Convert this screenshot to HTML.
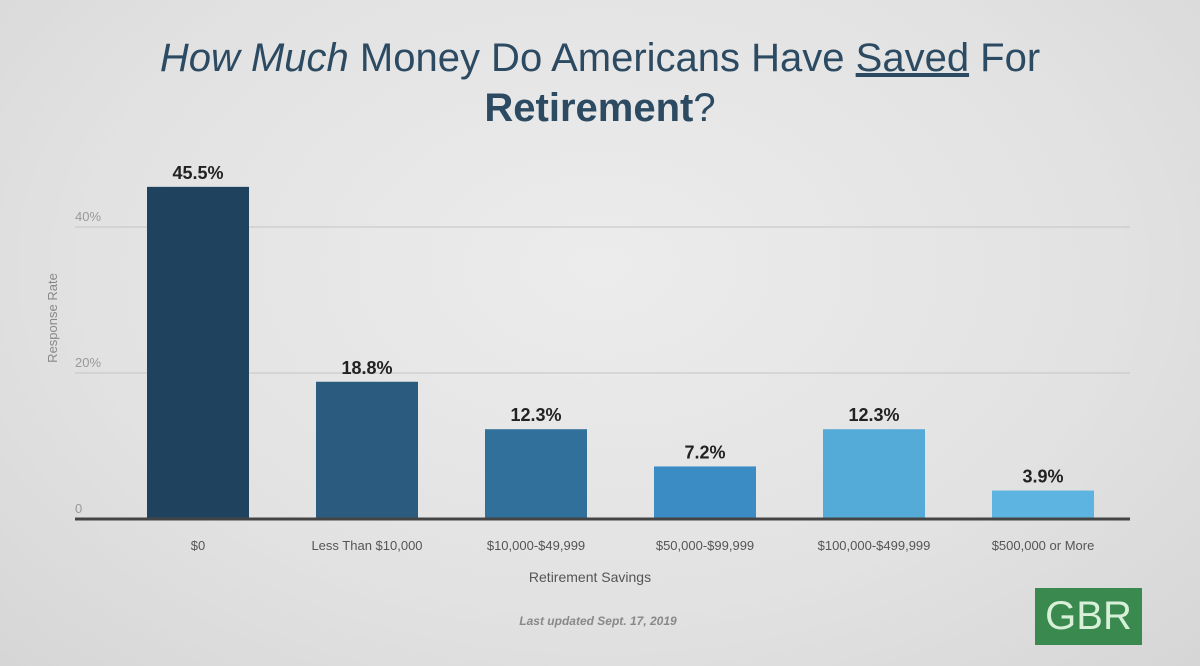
<!DOCTYPE html>
<html><head><meta charset="utf-8"><style>
html,body{margin:0;padding:0}
body{width:1200px;height:666px;overflow:hidden;background:radial-gradient(ellipse at 50% 40%,#ececec 0%,#e2e2e2 60%,#d6d6d6 100%);font-family:"Liberation Sans",sans-serif;position:relative}
.t{position:absolute;left:0;width:1200px;text-align:center;color:#2c4b62;font-size:40px}
</style></head><body>
<div class="t" style="top:36px"><i>How Much</i> Money Do Americans Have <u>Saved</u> For</div>
<div class="t" style="top:86px"><b>Retirement</b>?</div>
<svg id="c" width="1200" height="666" style="position:absolute;left:0;top:0"></svg>
<div style="position:absolute;left:1035px;top:588px;width:107px;height:57px;background:#3a8a50;color:#d8f0d8;font-size:40px;text-align:center;line-height:57px">GBR</div>
<script>
const categories=["$0","Less Than $10,000","$10,000-$49,999","$50,000-$99,999","$100,000-$499,999","$500,000 or More"];
const values=[45.5,18.8,12.3,7.2,12.3,3.9];
const valueLabels=["45.5%","18.8%","12.3%","7.2%","12.3%","3.9%"];
const ticks=[0,20,40];
const tickLabels=["0","20%","40%"];
const colors=["#1f435e","#2b5b7f","#30709b","#3b8cc5","#55abd8","#5eb4e1"];
const svg=document.getElementById('c');const NS='http://www.w3.org/2000/svg';
const y0=519,sc=7.3,x0=147,step=169,bw=102;
const y=v=>y0-v*sc, x=i=>x0+i*step;
function mk(t,a,txt){const e=document.createElementNS(NS,t);for(const k in a)e.setAttribute(k,a[k]);if(txt!=null)e.textContent=txt;svg.appendChild(e);return e;}
ticks.forEach((t,i)=>{
 if(t>0){const g=mk('line',{x1:75,x2:1130,y1:y(t),y2:y(t),stroke:'#c4c4c4','stroke-width':1});
 }
 const l=mk('text',{x:75,y:y(t)-6,'font-size':13,fill:'#999'},tickLabels[i]);
 
});
values.forEach((v,i)=>{
 const r=mk('rect',{x:x(i),y:y(v),width:bw,height:y0-y(v),fill:colors[i]});
 
 const t=mk('text',{x:x(i)+bw/2,y:y(v)-8,'text-anchor':'middle','font-size':18,'font-weight':'bold',fill:'#222'},valueLabels[i]);
 
 const c=mk('text',{x:x(i)+bw/2,y:550,'text-anchor':'middle','font-size':13,fill:'#555'},categories[i]);
 
});
const ax=mk('line',{x1:75,x2:1130,y1:y0,y2:y0,stroke:'#444','stroke-width':3});

const xt=mk('text',{x:590,y:582,'text-anchor':'middle','font-size':14,fill:'#555'},'Retirement Savings');

const yt=mk('text',{x:57,y:318,'text-anchor':'middle','font-size':13,fill:'#888',transform:'rotate(-90 57 318)'},'Response Rate');

const lu=mk('text',{x:598,y:625,'text-anchor':'middle','font-size':12,'font-style':'italic','font-weight':'bold',fill:'#888'},'Last updated Sept. 17, 2019');

</script>
</body></html>
